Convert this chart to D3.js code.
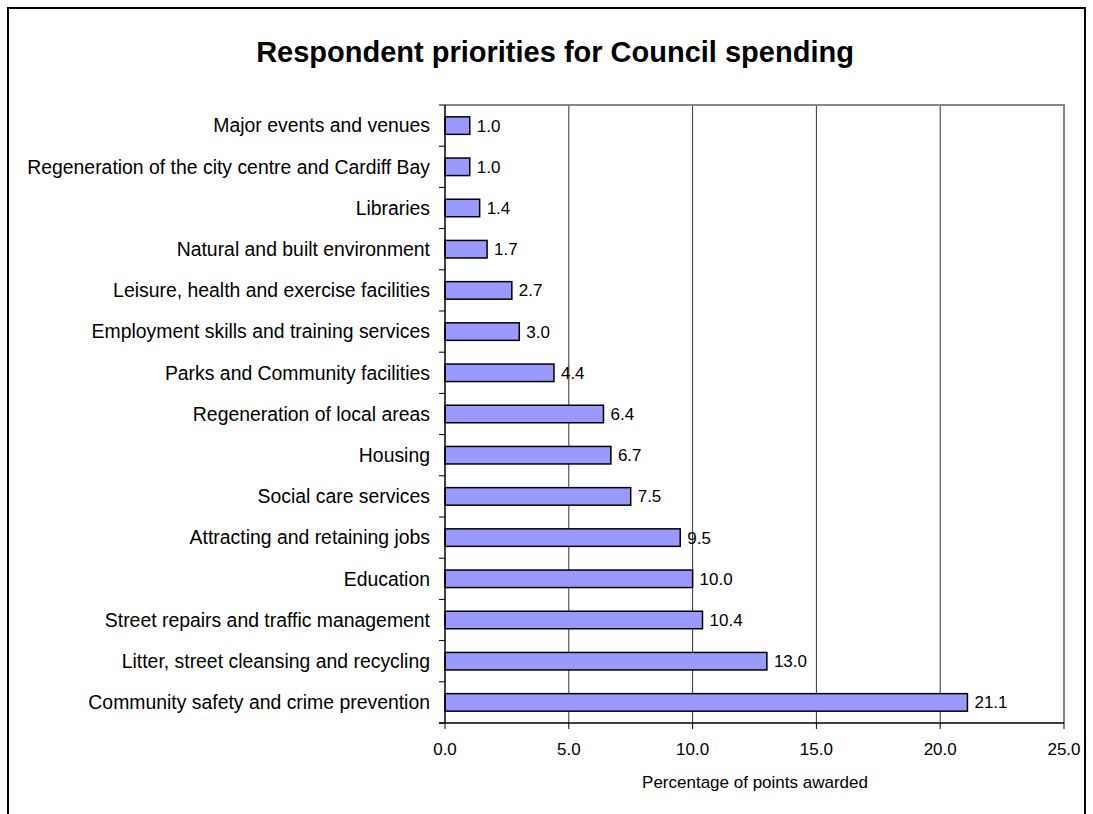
<!DOCTYPE html>
<html><head><meta charset="utf-8">
<script src="https://cdn.jsdelivr.net/npm/d3@7"></script>
<style>body{margin:0;background:#fff}svg{display:block}text{font-family:"Liberation Sans",Arial,sans-serif}</style>
</head><body>
<script>
const categories = ["Major events and venues","Regeneration of the city centre and Cardiff Bay","Libraries","Natural and built environment","Leisure, health and exercise facilities","Employment skills and training services","Parks and Community facilities","Regeneration of local areas","Housing","Social care services","Attracting and retaining jobs","Education","Street repairs and traffic management","Litter, street cleansing and recycling","Community safety and crime prevention"];
const values = [1.0,1.0,1.4,1.7,2.7,3.0,4.4,6.4,6.7,7.5,9.5,10.0,10.4,13.0,21.1];
const xTicks = [0,5,10,15,20,25];
const title = "Respondent priorities for Council spending";
const xTitle = "Percentage of points awarded";

const W=1093,H=814;
const svg=d3.select("body").append("svg").attr("width",W).attr("height",H);
svg.append("rect").attr("x",8).attr("y",8).attr("width",1077).attr("height",830).attr("fill","#fff").attr("stroke","#000").attr("stroke-width",2);

const L=445,R=1064,T=105,B=723;
const x=d3.scaleLinear().domain([0,25]).range([L,R]);
const y=d3.scaleBand().domain(categories).range([T,B]).paddingInner(0.575).paddingOuter(0.2875);
const yb=d3.scaleBand().domain(categories).range([T,B]);

svg.append("text").attr("x",555).attr("y",62).attr("text-anchor","middle").attr("font-size",29).attr("font-weight","bold").text(title);

// grid
svg.append("g").selectAll("line").data(xTicks.slice(1,-1)).join("line")
  .attr("x1",d=>x(d)).attr("x2",d=>x(d)).attr("y1",T).attr("y2",B).attr("stroke","#333").attr("stroke-width",1);
// plot border top/right
svg.append("path").attr("d",`M${L},${T}H${R}V${B}`).attr("fill","none").attr("stroke","#888").attr("stroke-width",2);

// bars
svg.append("g").selectAll("rect").data(values).join("rect")
  .attr("x",x(0)).attr("y",(d,i)=>y(categories[i])).attr("width",d=>x(d)-x(0)).attr("height",y.bandwidth())
  .attr("fill","#9999ff").attr("stroke","#000").attr("stroke-width",1.5);
svg.append("g").selectAll("text").data(values).join("text")
  .attr("x",d=>x(d)+7).attr("y",(d,i)=>y(categories[i])+y.bandwidth()/2).attr("dy","0.35em")
  .attr("font-size",17).text(d=>d.toFixed(1));

// y axis
const gy=svg.append("g");
gy.append("line").attr("x1",L).attr("x2",L).attr("y1",T).attr("y2",B).attr("stroke","#000").attr("stroke-width",1.5);
gy.selectAll("line.t").data(d3.range(categories.length+1)).join("line").attr("class","t")
  .attr("x1",L-6).attr("x2",L).attr("y1",i=>T+i*yb.step()).attr("y2",i=>T+i*yb.step()).attr("stroke","#000");
gy.selectAll("text").data(categories).join("text")
  .attr("x",430).attr("y",d=>yb(d)+yb.bandwidth()/2).attr("dy","0.35em").attr("text-anchor","end")
  .attr("font-size",19.4).text(d=>d);

// x axis
const gx=svg.append("g");
gx.append("line").attr("x1",L-6).attr("x2",R).attr("y1",B).attr("y2",B).attr("stroke","#000").attr("stroke-width",1.5);
gx.selectAll("line.t").data(xTicks).join("line").attr("class","t")
  .attr("x1",d=>x(d)).attr("x2",d=>x(d)).attr("y1",B).attr("y2",B+6).attr("stroke","#000");
gx.selectAll("text").data(xTicks).join("text")
  .attr("x",d=>x(d)).attr("y",755).attr("text-anchor","middle").attr("font-size",17).text(d=>d.toFixed(1));
svg.append("text").attr("x",755).attr("y",788).attr("text-anchor","middle").attr("font-size",17).text(xTitle);
</script>
</body></html>
